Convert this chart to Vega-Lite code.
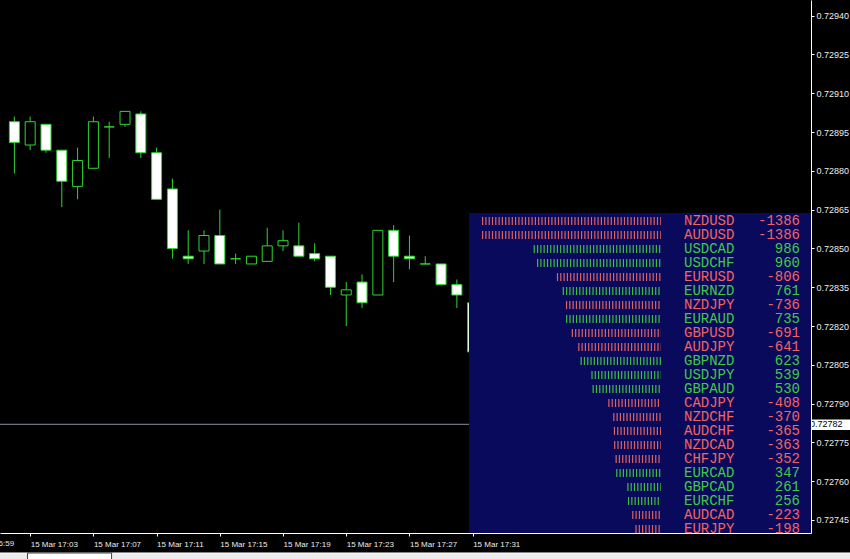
{
  "$schema": "https://vega.github.io/schema/vega-lite/v6.json",
  "width": 811,
  "height": 533,
  "autosize": {"type": "none"},
  "padding": {"left": 0, "top": 0, "right": 39, "bottom": 26},
  "background": "#000000",
  "config": {"view": {"stroke": null}, "font": "Liberation Sans", "axis": {"grid": false}},
  "datasets": {
    "candles": [
      {"t": "2018-03-15T17:02:00", "open": 0.72899, "high": 0.72901, "low": 0.72879, "close": 0.72891},
      {"t": "2018-03-15T17:03:00", "open": 0.72890, "high": 0.72901, "low": 0.72888, "close": 0.72899},
      {"t": "2018-03-15T17:04:00", "open": 0.72898, "high": 0.72898, "low": 0.72887, "close": 0.72888},
      {"t": "2018-03-15T17:05:00", "open": 0.72888, "high": 0.72888, "low": 0.72866, "close": 0.72876},
      {"t": "2018-03-15T17:06:00", "open": 0.72874, "high": 0.72889, "low": 0.72869, "close": 0.72884},
      {"t": "2018-03-15T17:07:00", "open": 0.72881, "high": 0.72901, "low": 0.72881, "close": 0.72899},
      {"t": "2018-03-15T17:08:00", "open": 0.72897, "high": 0.72899, "low": 0.72885, "close": 0.72897},
      {"t": "2018-03-15T17:09:00", "open": 0.72898, "high": 0.72903, "low": 0.72897, "close": 0.72903},
      {"t": "2018-03-15T17:10:00", "open": 0.72902, "high": 0.72903, "low": 0.72885, "close": 0.72887},
      {"t": "2018-03-15T17:11:00", "open": 0.72887, "high": 0.72889, "low": 0.72869, "close": 0.72869},
      {"t": "2018-03-15T17:12:00", "open": 0.72873, "high": 0.72877, "low": 0.72846, "close": 0.72850},
      {"t": "2018-03-15T17:13:00", "open": 0.72847, "high": 0.72857, "low": 0.72844, "close": 0.72846},
      {"t": "2018-03-15T17:14:00", "open": 0.72849, "high": 0.72857, "low": 0.72844, "close": 0.72855},
      {"t": "2018-03-15T17:15:00", "open": 0.72855, "high": 0.72865, "low": 0.72844, "close": 0.72844},
      {"t": "2018-03-15T17:16:00", "open": 0.72846, "high": 0.72848, "low": 0.72844, "close": 0.72846},
      {"t": "2018-03-15T17:17:00", "open": 0.72844, "high": 0.72847, "low": 0.72844, "close": 0.72847},
      {"t": "2018-03-15T17:18:00", "open": 0.72845, "high": 0.72858, "low": 0.72845, "close": 0.72851},
      {"t": "2018-03-15T17:19:00", "open": 0.72851, "high": 0.72857, "low": 0.72849, "close": 0.72853},
      {"t": "2018-03-15T17:20:00", "open": 0.72851, "high": 0.72860, "low": 0.72847, "close": 0.72847},
      {"t": "2018-03-15T17:21:00", "open": 0.72848, "high": 0.72852, "low": 0.72845, "close": 0.72846},
      {"t": "2018-03-15T17:22:00", "open": 0.72847, "high": 0.72847, "low": 0.72832, "close": 0.72835},
      {"t": "2018-03-15T17:23:00", "open": 0.72832, "high": 0.72837, "low": 0.72820, "close": 0.72834},
      {"t": "2018-03-15T17:24:00", "open": 0.72837, "high": 0.72840, "low": 0.72827, "close": 0.72829},
      {"t": "2018-03-15T17:25:00", "open": 0.72832, "high": 0.72857, "low": 0.72832, "close": 0.72857},
      {"t": "2018-03-15T17:26:00", "open": 0.72857, "high": 0.72859, "low": 0.72837, "close": 0.72847},
      {"t": "2018-03-15T17:27:00", "open": 0.72847, "high": 0.72855, "low": 0.72842, "close": 0.72846},
      {"t": "2018-03-15T17:28:00", "open": 0.72844, "high": 0.72847, "low": 0.72844, "close": 0.72844},
      {"t": "2018-03-15T17:29:00", "open": 0.72844, "high": 0.72844, "low": 0.72836, "close": 0.72836},
      {"t": "2018-03-15T17:30:00", "open": 0.72836, "high": 0.72838, "low": 0.72827, "close": 0.72832},
      {"t": "2018-03-15T17:31:00", "open": 0.72829, "high": 0.72829, "low": 0.72805, "close": 0.72810}
    ],
    "strength": [
      {"rank": 1, "pair": "NZDUSD", "value": -1386, "strength": 1386},
      {"rank": 2, "pair": "AUDUSD", "value": -1386, "strength": 1386},
      {"rank": 3, "pair": "USDCAD", "value": 986, "strength": 986},
      {"rank": 4, "pair": "USDCHF", "value": 960, "strength": 960},
      {"rank": 5, "pair": "EURUSD", "value": -806, "strength": 806},
      {"rank": 6, "pair": "EURNZD", "value": 761, "strength": 761},
      {"rank": 7, "pair": "NZDJPY", "value": -736, "strength": 736},
      {"rank": 8, "pair": "EURAUD", "value": 735, "strength": 735},
      {"rank": 9, "pair": "GBPUSD", "value": -691, "strength": 691},
      {"rank": 10, "pair": "AUDJPY", "value": -641, "strength": 641},
      {"rank": 11, "pair": "GBPNZD", "value": 623, "strength": 623},
      {"rank": 12, "pair": "USDJPY", "value": 539, "strength": 539},
      {"rank": 13, "pair": "GBPAUD", "value": 530, "strength": 530},
      {"rank": 14, "pair": "CADJPY", "value": -408, "strength": 408},
      {"rank": 15, "pair": "NZDCHF", "value": -370, "strength": 370},
      {"rank": 16, "pair": "AUDCHF", "value": -365, "strength": 365},
      {"rank": 17, "pair": "NZDCAD", "value": -363, "strength": 363},
      {"rank": 18, "pair": "CHFJPY", "value": -352, "strength": 352},
      {"rank": 19, "pair": "EURCAD", "value": 347, "strength": 347},
      {"rank": 20, "pair": "GBPCAD", "value": 261, "strength": 261},
      {"rank": 21, "pair": "EURCHF", "value": 256, "strength": 256},
      {"rank": 22, "pair": "AUDCAD", "value": -223, "strength": 223},
      {"rank": 23, "pair": "EURJPY", "value": -198, "strength": 198}
    ]
  },
  "layer": [
    {
      "data": {"name": "candles"},
      "layer": [
        {
          "data": {"values": [{}]},
          "mark": {"type": "rect", "fill": "#ececec", "stroke": "#ffffff", "strokeWidth": 1},
          "encoding": {
            "x": {"datum": {"year": 2018, "month": 3, "date": 15, "hours": 16, "minutes": 58}, "type": "temporal"},
            "x2": {"datum": {"year": 2018, "month": 3, "date": 15, "hours": 17, "minutes": 58}},
            "y": {"datum": 0.7273224, "type": "quantitative"},
            "y2": {"datum": 0.72728}
          }
        },
        {
          "data": {"values": [{}]},
          "mark": {"type": "rect", "fill": "#ffffff", "stroke": "#404040", "strokeWidth": 1},
          "encoding": {
            "x": {"datum": {"year": 2018, "month": 3, "date": 15, "hours": 17, "minutes": 2, "seconds": 50}, "type": "temporal"},
            "x2": {"datum": {"year": 2018, "month": 3, "date": 15, "hours": 17, "minutes": 8, "seconds": 9}},
            "y": {"datum": 0.7273224, "type": "quantitative"},
            "y2": {"datum": 0.72728}
          }
        },
        {
          "data": {"values": [{}]},
          "mark": {"type": "rule", "color": "#8c8ca4", "strokeWidth": 1},
          "encoding": {"y": {"datum": 0.72782, "type": "quantitative"}}
        },
        {
          "data": {"values": [{}]},
          "mark": {"type": "rect", "fill": "#ffffff"},
          "encoding": {
            "x": {"datum": {"year": 2018, "month": 3, "date": 15, "hours": 17, "minutes": 52, "seconds": 17}, "type": "temporal"},
            "x2": {"datum": {"year": 2018, "month": 3, "date": 15, "hours": 17, "minutes": 56}},
            "y": {"datum": 0.7278386, "type": "quantitative"},
            "y2": {"datum": 0.727798}
          }
        },
        {
          "data": {"values": [{"label": "0.72782"}]},
          "mark": {"type": "text", "align": "left", "baseline": "middle", "color": "#000000", "font": "Liberation Sans", "fontSize": 9},
          "encoding": {
            "x": {"datum": {"year": 2018, "month": 3, "date": 15, "hours": 17, "minutes": 52, "seconds": 21}, "type": "temporal"},
            "y": {"datum": 0.72782, "type": "quantitative"},
            "text": {"field": "label"}
          }
        },
        {
          "data": {"values": [{"label": "15 Mar 16:59"}]},
          "mark": {"type": "text", "align": "left", "baseline": "top", "color": "#e8e8e8", "font": "Liberation Sans", "fontSize": 8},
          "encoding": {
            "x": {"datum": {"year": 2018, "month": 3, "date": 15, "hours": 16, "minutes": 59}, "type": "temporal"},
            "y": {"datum": 0.7273726, "type": "quantitative"},
            "text": {"field": "label"}
          }
        },
        {
          "mark": {"type": "rule", "color": "#30d530", "strokeWidth": 1},
          "encoding": {
            "x": {
              "field": "t", "type": "temporal",
              "scale": {"domain": [
                {"year": 2018, "month": 3, "date": 15, "hours": 17, "minutes": 1, "seconds": 24, "milliseconds": 375},
                {"year": 2018, "month": 3, "date": 15, "hours": 17, "minutes": 52, "seconds": 5, "milliseconds": 625}
              ], "nice": false},
              "axis": {
                "title": null, "orient": "bottom",
                "values": [
                  {"year": 2018, "month": 3, "date": 15, "hours": 17, "minutes": 3},
                  {"year": 2018, "month": 3, "date": 15, "hours": 17, "minutes": 7},
                  {"year": 2018, "month": 3, "date": 15, "hours": 17, "minutes": 11},
                  {"year": 2018, "month": 3, "date": 15, "hours": 17, "minutes": 15},
                  {"year": 2018, "month": 3, "date": 15, "hours": 17, "minutes": 19},
                  {"year": 2018, "month": 3, "date": 15, "hours": 17, "minutes": 23},
                  {"year": 2018, "month": 3, "date": 15, "hours": 17, "minutes": 27},
                  {"year": 2018, "month": 3, "date": 15, "hours": 17, "minutes": 31}
                ],
                "format": "%d %b %H:%M",
                "labelAlign": "left", "labelBaseline": "top", "labelPadding": 4, "labelDx": -1,
                "labelFlush": false, "labelOverlap": false,
                "labelFont": "Liberation Sans", "labelFontSize": 8, "labelColor": "#ececec",
                "tickSize": 3, "tickColor": "#ffffff", "domainColor": "#ffffff", "zindex": 1
              }
            },
            "y": {
              "field": "low", "type": "quantitative",
              "scale": {"domain": [0.7273997, 0.7294607], "nice": false, "zero": false},
              "axis": {
                "title": null, "orient": "right",
                "values": [0.72745, 0.7276, 0.72775, 0.7279, 0.72805, 0.7282, 0.72835, 0.7285, 0.72865, 0.7288, 0.72895, 0.7291, 0.72925, 0.7294],
                "format": ".5f",
                "labelFont": "Liberation Sans", "labelFontSize": 9, "labelColor": "#ececec",
                "labelPadding": 2, "labelOverlap": false,
                "tickSize": 3, "tickColor": "#ffffff", "domainColor": "#ffffff", "zindex": 1
              }
            },
            "y2": {"field": "high"}
          }
        },
        {
          "mark": {"type": "bar", "width": 10, "stroke": "#30d530", "strokeWidth": 1},
          "encoding": {
            "x": {"field": "t", "type": "temporal"},
            "y": {"field": "open", "type": "quantitative"},
            "y2": {"field": "close"},
            "fill": {"condition": {"test": "datum.close < datum.open", "value": "#ffffff"}, "value": "#000000"}
          }
        }
      ]
    },
    {
      "data": {"name": "strength"},
      "layer": [
        {
          "data": {"values": [{}]},
          "mark": {"type": "rect", "fill": "#0a0a5c"},
          "encoding": {
            "x": {"datum": 1486.6, "type": "quantitative", "scale": {"domain": [-1161.4, 5118.1], "reverse": true, "nice": false, "zero": false}, "axis": null},
            "x2": {"datum": -1161.4},
            "y": {"datum": 0.4286, "type": "quantitative", "scale": {"domain": [-14.786, 23.286], "reverse": true, "nice": false, "zero": false}, "axis": null},
            "y2": {"datum": 23.286}
          }
        },
        {
          "mark": {"type": "rule", "strokeWidth": 8, "strokeDash": [1.2, 2.1], "clip": true},
          "encoding": {
            "x": {"field": "strength", "type": "quantitative", "axis": null},
            "x2": {"datum": 0},
            "y": {"field": "rank", "type": "quantitative", "axis": null},
            "color": {"condition": {"test": "datum.value < 0", "value": "#dc6262"}, "value": "#3cbf3c"}
          }
        },
        {
          "mark": {"type": "text", "align": "left", "baseline": "middle", "font": "Liberation Mono", "fontSize": 14, "clip": true},
          "encoding": {
            "x": {"datum": -178.1, "type": "quantitative", "axis": null},
            "y": {"field": "rank", "type": "quantitative", "axis": null},
            "text": {"field": "pair", "type": "nominal"},
            "color": {"condition": {"test": "datum.value < 0", "value": "#f06464"}, "value": "#44c844"}
          }
        },
        {
          "mark": {"type": "text", "align": "right", "baseline": "middle", "font": "Liberation Mono", "fontSize": 14, "clip": true},
          "encoding": {
            "x": {"datum": -1076.3, "type": "quantitative", "axis": null},
            "y": {"field": "rank", "type": "quantitative", "axis": null},
            "text": {"field": "value", "type": "nominal"},
            "color": {"condition": {"test": "datum.value < 0", "value": "#f06464"}, "value": "#44c844"}
          }
        }
      ]
    }
  ],
  "resolve": {"scale": {"x": "independent", "y": "independent"}}
}
